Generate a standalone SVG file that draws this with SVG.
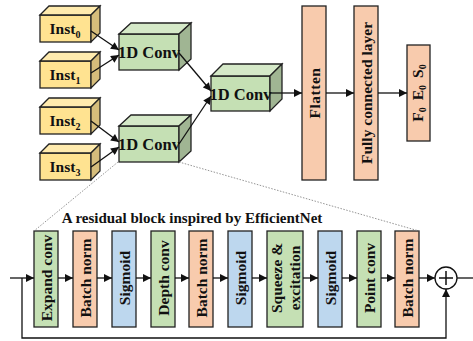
<svg xmlns="http://www.w3.org/2000/svg" width="473" height="341" viewBox="0 0 473 341">
<defs>
<style>
text{font-family:"Liberation Serif","Times New Roman",serif;font-weight:bold;fill:#111;}
.lbl{font-size:15.5px;text-anchor:middle;}
.conv{font-size:16.5px;text-anchor:middle;}
.sub{font-size:10px;}
.edge{stroke:#111;stroke-width:1.3;fill:none;}
.dot{stroke:#888;stroke-width:0.9;stroke-dasharray:1.5,1.5;fill:none;}
.bx{stroke:#222;stroke-width:1.3;}
.yf{fill:#FFE391;}.yt{fill:#FFEBAE;}.ys{fill:#D6BD7B;}
.gf{fill:#C5E0B4;}.gt{fill:#D5E9C8;}.gs{fill:#A0B593;}
.salmon{fill:#F8CBAD;}.blue{fill:#BDD7EE;}.green{fill:#C5E0B4;}
</style>
<marker id="ah" viewBox="0 0 10 10" refX="10" refY="5" markerWidth="9" markerHeight="8" markerUnits="userSpaceOnUse" orient="auto">
<path d="M0,0 L10,5 L0,10 z" fill="#111"/>
</marker>
</defs>
<rect width="473" height="341" fill="#fff"/>

<!-- Inst boxes -->
<g id="inst0">
<rect class="bx yf" x="40" y="15" width="51" height="27"/>
<polygon class="bx yt" points="40,15 49,6 100,6 91,15"/>
<polygon class="bx ys" points="91,15 100,6 100,33 91,42"/>
<text class="lbl" x="65" y="34">Inst<tspan class="sub" dy="4">0</tspan></text>
</g>
<g id="inst1">
<rect class="bx yf" x="40" y="61" width="51" height="27"/>
<polygon class="bx yt" points="40,61 49,52 100,52 91,61"/>
<polygon class="bx ys" points="91,61 100,52 100,79 91,88"/>
<text class="lbl" x="65" y="80">Inst<tspan class="sub" dy="4">1</tspan></text>
</g>
<g id="inst2">
<rect class="bx yf" x="40" y="107" width="51" height="27"/>
<polygon class="bx yt" points="40,107 49,98 100,98 91,107"/>
<polygon class="bx ys" points="91,107 100,98 100,125 91,134"/>
<text class="lbl" x="65" y="126">Inst<tspan class="sub" dy="4">2</tspan></text>
</g>
<g id="inst3">
<rect class="bx yf" x="40" y="153" width="51" height="27"/>
<polygon class="bx yt" points="40,153 49,144 100,144 91,153"/>
<polygon class="bx ys" points="91,153 100,144 100,171 91,180"/>
<text class="lbl" x="65" y="172">Inst<tspan class="sub" dy="4">3</tspan></text>
</g>

<!-- Conv boxes -->
<g id="conv1">
<rect class="bx gf" x="119" y="34" width="60" height="36"/>
<polygon class="bx gt" points="119,34 131,23 191,23 179,34"/>
<polygon class="bx gs" points="179,34 191,23 191,59 179,70"/>
<text class="conv" x="149" y="58">1D Conv</text>
</g>
<g id="conv2">
<rect class="bx gf" x="119" y="126" width="60" height="36"/>
<polygon class="bx gt" points="119,126 131,115 191,115 179,126"/>
<polygon class="bx gs" points="179,126 191,115 191,151 179,162"/>
<text class="conv" x="149" y="150">1D Conv</text>
</g>
<g id="conv3">
<rect class="bx gf" x="211" y="76" width="59" height="35"/>
<polygon class="bx gt" points="211,76 223,64 282,64 270,76"/>
<polygon class="bx gs" points="270,76 282,64 282,99 270,111"/>
<text class="conv" x="240.5" y="99.5">1D Conv</text>
</g>

<!-- Upper right -->
<g id="flatten">
<rect class="bx salmon" x="302" y="6" width="24" height="174"/>
<text class="lbl" transform="translate(314,93) rotate(-90)" dy="5.5" letter-spacing="0.5">Flatten</text>
</g>
<g id="fc">
<rect class="bx salmon" x="354" y="6" width="24" height="174"/>
<text class="lbl" transform="translate(366,93) rotate(-90)" dy="5.5">Fully connected layer</text>
</g>
<g id="out">
<rect class="bx salmon" x="407" y="45" width="23" height="96"/>
<text class="lbl" transform="translate(418,93) rotate(-90)" dy="4.5">F<tspan class="sub" dy="3">0</tspan><tspan dx="7" dy="-3">E</tspan><tspan class="sub" dy="3">0</tspan><tspan dx="7" dy="-3">S</tspan><tspan class="sub" dy="3">0</tspan></text>
</g>

<!-- Residual block -->
<text id="title" x="192" y="223" font-size="15" text-anchor="middle">A residual block inspired by EfficientNet</text>
<g id="expand"><rect class="bx green" x="34" y="231" width="24" height="96"/><text class="lbl" transform="translate(46,278) rotate(-90)" dy="5.5">Expand conv</text></g>
<g id="bn1"><rect class="bx salmon" x="73" y="231" width="24" height="96"/><text class="lbl" transform="translate(85,278) rotate(-90)" dy="5.5">Batch norm</text></g>
<g id="sig1"><rect class="bx blue" x="112" y="231" width="24" height="96"/><text class="lbl" transform="translate(124,278) rotate(-90)" dy="5.5">Sigmoid</text></g>
<g id="depth"><rect class="bx green" x="151" y="231" width="24" height="96"/><text class="lbl" transform="translate(163,278) rotate(-90)" dy="5.5">Depth conv</text></g>
<g id="bn2"><rect class="bx salmon" x="189" y="231" width="24" height="96"/><text class="lbl" transform="translate(201,278) rotate(-90)" dy="5.5">Batch norm</text></g>
<g id="sig2"><rect class="bx blue" x="228" y="231" width="24" height="96"/><text class="lbl" transform="translate(240,278) rotate(-90)" dy="5.5">Sigmoid</text></g>
<g id="se"><rect class="bx green" x="267" y="231" width="36" height="96"/>
<text class="lbl" transform="translate(276,278) rotate(-90)" dy="5.5">Squeeze &amp;</text>
<text class="lbl" transform="translate(294,278) rotate(-90)" dy="5.5">excitation</text></g>
<g id="sig3"><rect class="bx blue" x="318" y="231" width="24" height="96"/><text class="lbl" transform="translate(330,278) rotate(-90)" dy="5.5">Sigmoid</text></g>
<g id="point"><rect class="bx green" x="357" y="231" width="24" height="96"/><text class="lbl" transform="translate(369,278) rotate(-90)" dy="5.5">Point conv</text></g>
<g id="bn3"><rect class="bx salmon" x="395" y="231" width="24" height="96"/><text class="lbl" transform="translate(407,278) rotate(-90)" dy="5.5">Batch norm</text></g>
<g id="add"><circle cx="446" cy="278" r="11" fill="#fff" stroke="#111" stroke-width="1.3"/>
<path d="M439,278 H453 M446,271 V285" stroke="#111" stroke-width="1.5"/></g>

<!-- Connectors -->
<g id="connectors">
<line class="edge" x1="91" y1="31" x2="119" y2="50" marker-end="url(#ah)"/>
<line class="edge" x1="91" y1="73" x2="119" y2="55" marker-end="url(#ah)"/>
<line class="edge" x1="91" y1="121" x2="119" y2="142" marker-end="url(#ah)"/>
<line class="edge" x1="91" y1="167" x2="119" y2="147" marker-end="url(#ah)"/>
<line class="edge" x1="179" y1="53" x2="211" y2="91" marker-end="url(#ah)"/>
<line class="edge" x1="179" y1="144" x2="211" y2="96" marker-end="url(#ah)"/>
<line class="edge" x1="270" y1="93" x2="302" y2="93" marker-end="url(#ah)"/>
<line class="edge" x1="326" y1="93" x2="354" y2="93" marker-end="url(#ah)"/>
<line class="edge" x1="378" y1="93" x2="407" y2="93" marker-end="url(#ah)"/>
<line class="dot" x1="118" y1="162" x2="34" y2="231"/>
<line class="dot" x1="179" y1="162" x2="419" y2="231"/>
<line class="edge" x1="10" y1="278" x2="34" y2="278" marker-end="url(#ah)"/>
<line class="edge" x1="58" y1="278" x2="73" y2="278" marker-end="url(#ah)"/>
<line class="edge" x1="97" y1="278" x2="112" y2="278" marker-end="url(#ah)"/>
<line class="edge" x1="136" y1="278" x2="151" y2="278" marker-end="url(#ah)"/>
<line class="edge" x1="175" y1="278" x2="189" y2="278" marker-end="url(#ah)"/>
<line class="edge" x1="213" y1="278" x2="228" y2="278" marker-end="url(#ah)"/>
<line class="edge" x1="252" y1="278" x2="267" y2="278" marker-end="url(#ah)"/>
<line class="edge" x1="303" y1="278" x2="318" y2="278" marker-end="url(#ah)"/>
<line class="edge" x1="342" y1="278" x2="357" y2="278" marker-end="url(#ah)"/>
<line class="edge" x1="381" y1="278" x2="395" y2="278" marker-end="url(#ah)"/>
<line class="edge" x1="419" y1="278" x2="435" y2="278" marker-end="url(#ah)"/>
<line class="edge" x1="457" y1="278" x2="473" y2="278"/>
<polyline class="edge" points="22,278 22,338 446,338 446,289" marker-end="url(#ah)"/>
</g>
</svg>
